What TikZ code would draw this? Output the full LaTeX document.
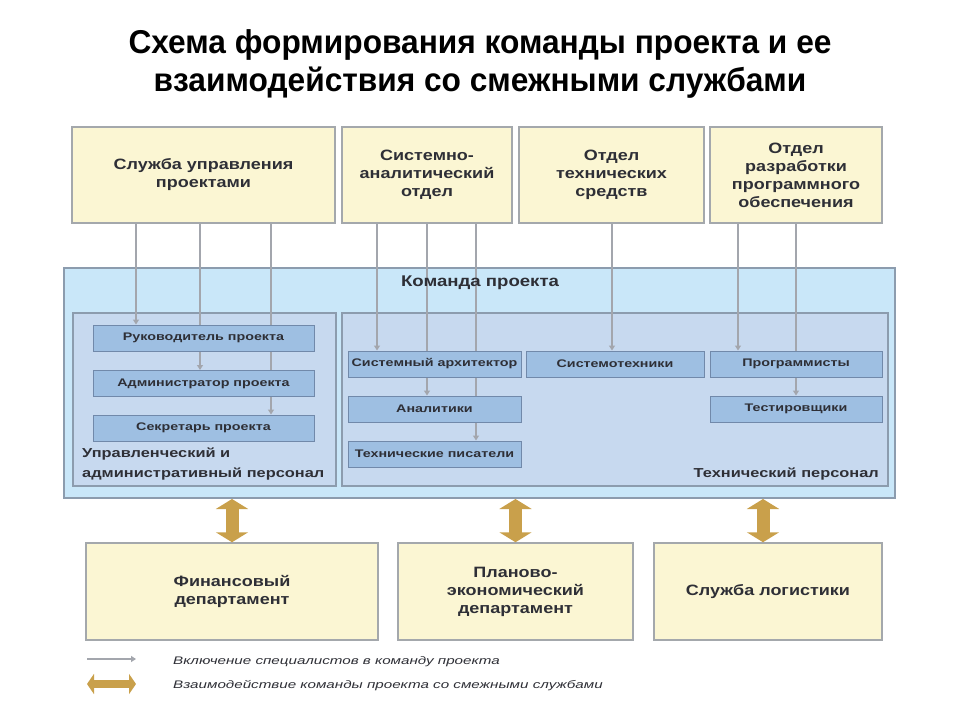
\documentclass[tikz,border=0pt]{standalone}
\usepackage{fontspec}
\setmainfont{Liberation Sans}
\newfontfamily\headfont[FakeStretch=0.96]{Liberation Sans}
\newfontfamily\boxfont[FakeStretch=1.2]{Liberation Sans}
\newfontfamily\labelfont[FakeStretch=1.26]{Liberation Sans}
\newfontfamily\stafffont[FakeStretch=1.3]{Liberation Sans}
\newfontfamily\notefont[FakeStretch=1.38]{Liberation Sans}
\usetikzlibrary{arrows.meta}
\definecolor{paper}{HTML}{FBF6D3}
\definecolor{frame}{HTML}{A4A8AC}
\definecolor{sky}{HTML}{C9E7F9}
\definecolor{skyedge}{HTML}{8C9CAE}
\definecolor{panel}{HTML}{C7D9EF}
\definecolor{staff}{HTML}{9EBFE2}
\definecolor{staffedge}{HTML}{7189AA}
\definecolor{feedline}{HTML}{A3A6AD}
\definecolor{gold}{HTML}{C9A04B}
\definecolor{ink}{HTML}{2E2F36}
\pgfdeclarelayer{back}
\pgfdeclarelayer{mid}
\pgfsetlayers{back,mid,main}

\begin{document}
\begin{tikzpicture}[x=1pt,y=-1pt,
  dept/.style={draw=frame,line width=1.5pt,fill=paper,inner sep=0pt,
    minimum height=96pt,align=center,text=ink,
    font=\boxfont\bfseries\fontsize{15}{18}\selectfont},
  group/.style={draw=skyedge,line width=1.2pt,fill=panel,inner sep=0pt,
    minimum height=173pt},
  role/.style={draw=staffedge,line width=1pt,fill=staff,inner sep=0pt,
    minimum height=26pt,text=ink,
    font=\stafffont\bfseries\fontsize{11}{13}\selectfont},
  caption/.style={text=ink,inner sep=0pt,align=left,
    font=\labelfont\bfseries\fontsize{13}{20}\selectfont},
  feed/.style={feedline,line width=1.2pt,-{Triangle[width=6pt,length=5pt]}},
  link/.style={gold,line width=13pt,
    {Triangle[width=32pt,length=10pt]}-{Triangle[width=32pt,length=10pt]}},
  note/.style={text=ink,anchor=west,inner sep=0pt,
    font=\notefont\itshape\fontsize{11}{13}\selectfont}]
  \begin{pgfonlayer}{back}
    \fill[white] (0,0) rectangle (960,720);
  \end{pgfonlayer}
  \useasboundingbox (0,0) rectangle (960,720);

  \node[align=center,font=\headfont\bfseries\fontsize{33}{38}\selectfont] (title)
    at (480,64) {Схема формирования команды проекта и ее\\
                 взаимодействия со смежными службами};

  % departments on top
  \node[dept,minimum width=263pt] (svc) at (203.5,175) {Служба управления\\проектами};
  \node[dept,minimum width=170pt] (sys) at (427,175) {Системно-\\аналитический\\отдел};
  \node[dept,minimum width=185pt] (hw) at (611.5,175) {Отдел\\технических\\средств};
  \node[dept,minimum width=172pt] (soft) at (796,175)
    {Отдел\\разработки\\программного\\обеспечения};

  % project team
  \begin{pgfonlayer}{back}
    \node[draw=skyedge,line width=2pt,fill=sky,inner sep=0pt,
      minimum width=831pt,minimum height=230pt] (team) at (479.5,383) {};
    \node[group,minimum width=263pt] (mgmt) at (204.5,399.5) {};
    \node[group,minimum width=546pt] (techs) at (615,399.5) {};
  \end{pgfonlayer}
  \node[caption,font=\boxfont\bfseries\fontsize{15.5}{17}\selectfont] (teamlbl)
    at (480,283) {Команда проекта};
  \node[caption,anchor=west] (mgmtlbl) at (82,464)
    {Управленческий и\\административный персонал};
  \node[caption,anchor=east] (techslbl) at (879,474) {Технический персонал};

  \node[role,minimum width=221pt] (lead) at (203.5,338) {Руководитель проекта};
  \node[role,minimum width=221pt] (admin) at (203.5,383.5) {Администратор проекта};
  \node[role,minimum width=221pt] (secr) at (203.5,428) {Секретарь проекта};
  \node[role,minimum width=173pt] (arch) at (434.5,364) {Системный архитектор};
  \node[role,minimum width=173pt] (anal) at (434.5,409) {Аналитики};
  \node[role,minimum width=173pt] (writ) at (434.5,454) {Технические писатели};
  \node[role,minimum width=178pt] (sysen) at (615,364) {Системотехники};
  \node[role,minimum width=172pt] (prog) at (796,364) {Программисты};
  \node[role,minimum width=172pt] (test) at (796,409) {Тестировщики};

  \begin{pgfonlayer}{mid}
    \foreach \src/\dx/\dst in {svc/-67.5/lead,svc/-3.5/admin,svc/67.5/secr,
        sys/-50/arch,sys/0/anal,sys/49/writ,hw/0.5/sysen,soft/-58/prog,soft/0/test}
      \draw[feed] ([xshift=\dx pt]\src.south) coordinate (s) -- (s |- \dst.north);
  \end{pgfonlayer}

  % adjacent services
  \node[dept,minimum width=292pt,minimum height=97pt] (fin) at (232,591.5)
    {Финансовый\\департамент};
  \node[dept,minimum width=235pt,minimum height=97pt] (plan) at (515.5,591.5)
    {Планово-\\экономический\\департамент};
  \node[dept,minimum width=228pt,minimum height=97pt] (log) at (768,591.5)
    {Служба логистики};

  \draw[link] (fin.north |- team.south) -- (fin.north);
  \draw[link] (plan.north |- team.south) -- (plan.north);
  \draw[link] ([xshift=-5pt]log.north) coordinate (l) -- (l |- team.south);

  % legend
  \coordinate (k1) at (87,659);
  \coordinate (k2) at (136,659);
  \coordinate (k3) at (87,684);
  \coordinate (k4) at (136,684);
  \draw[feed] (k1) -- (k2);
  \draw[link,line width=8pt,
    {Triangle[width=20pt,length=7pt]}-{Triangle[width=20pt,length=7pt]}] (k3) -- (k4);
  \node[note] (n1) at (173,662) {Включение специалистов в команду проекта};
  \node[note] (n2) at (173,686) {Взаимодействие команды проекта со смежными службами};
\end{tikzpicture}
\end{document}
